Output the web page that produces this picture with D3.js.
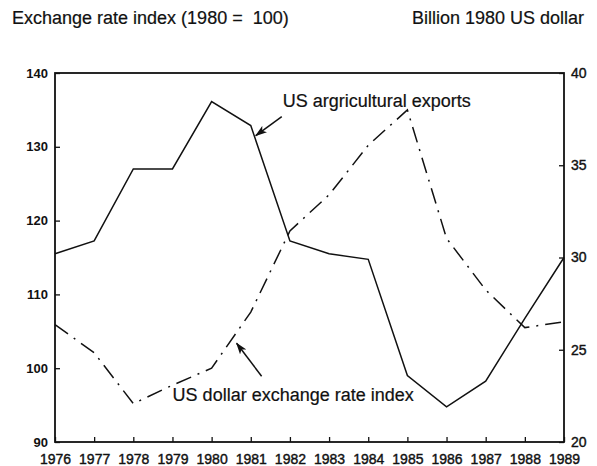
<!DOCTYPE html>
<html>
<head>
<meta charset="utf-8">
<script src="https://cdn.jsdelivr.net/npm/d3@7/dist/d3.min.js"></script>
<style>
  html, body { margin: 0; padding: 0; background: #fff; }
  svg { display: block; }
  text { font-family: "Liberation Sans", Arial, Helvetica, sans-serif; fill: #111; }
</style>
</head>
<body>
<svg id="chart" width="597" height="466"></svg>
<script>
// ---- data ----
const years = [1976, 1977, 1978, 1979, 1980, 1981, 1982, 1983, 1984, 1985, 1986, 1987, 1988, 1989];
// US agricultural exports, billion 1980 US dollar (right axis)
const agExports = [30.2, 30.9, 34.8, 34.8, 38.45, 37.15, 30.9, 30.2, 29.9, 23.6, 21.9, 23.3, 26.7, 30.0];
// US dollar exchange rate index, 1980 = 100 (left axis)
const exchangeIndex = [105.9, 102.1, 95.2, 97.7, 100.0, 107.6, 118.6, 123.5, 130.2, 135.0, 117.6, 110.6, 105.5, 106.3];
const leftTicks = [90, 100, 110, 120, 130, 140];
const rightTicks = [20, 25, 30, 35, 40];
const leftTitle = "Exchange rate index (1980 =\u00a0 100)";
const rightTitle = "Billion 1980 US dollar";
const labelExports = "US argricultural exports";
const labelExchange = "US dollar exchange rate index";

// ---- layout ----
const svg = d3.select("#chart");
const L = 55, R = 564, T = 73, B = 442;

const x = d3.scaleLinear().domain([1976, 1989]).range([L, R]);
const yL = d3.scaleLinear().domain([90, 140]).range([B, T]);
const yR = d3.scaleLinear().domain([20, 40]).range([B, T]);

// titles
svg.append("text").attr("x", 12).attr("y", 24).attr("font-size", 18)
  .attr("stroke", "#111").attr("stroke-width", 0.2).text(leftTitle);
svg.append("text").attr("x", 584).attr("y", 24).attr("font-size", 18)
  .attr("stroke", "#111").attr("stroke-width", 0.2)
  .attr("text-anchor", "end").text(rightTitle);

// axes
const gL = svg.append("g").attr("transform", `translate(${L},0)`)
  .call(d3.axisLeft(yL).tickValues(leftTicks).tickSizeInner(-5).tickSizeOuter(0).tickPadding(7));
gL.selectAll("text").attr("font-size", 13).attr("font-weight", "bold")
  .style("font-family", '"Liberation Sans", Arial, sans-serif').attr("fill", "#111");

const gR = svg.append("g").attr("transform", `translate(${R},0)`)
  .call(d3.axisRight(yR).tickValues(rightTicks).tickSizeInner(-5).tickSizeOuter(0).tickPadding(7));
gR.selectAll("text").attr("font-size", 14)
  .attr("stroke", "#111").attr("stroke-width", 0.4)
  .style("font-family", '"Liberation Sans", Arial, sans-serif').attr("fill", "#111");

const gB = svg.append("g").attr("transform", `translate(0,${B})`)
  .call(d3.axisBottom(x).tickValues(years).tickFormat(d3.format("d")).tickSizeInner(-5).tickSizeOuter(0).tickPadding(12));
gB.selectAll("text").attr("font-size", 14)
  .attr("stroke", "#111").attr("stroke-width", 0.4)
  .style("font-family", '"Liberation Sans", Arial, sans-serif').attr("fill", "#111");

[gL, gR, gB].forEach(g => {
  g.select(".domain").remove();
  g.selectAll(".tick line").attr("stroke", "#111").attr("stroke-width", 1.3);
});

// frame
svg.append("rect").attr("x", L).attr("y", T).attr("width", R - L).attr("height", B - T)
  .attr("fill", "none").attr("stroke", "#111").attr("stroke-width", 1.8);

// lines
const lineExports = d3.line().x((d, i) => x(years[i])).y(d => yR(d));
const lineExchange = d3.line().x((d, i) => x(years[i])).y(d => yL(d));

svg.append("path").datum(agExports).attr("d", lineExports)
  .attr("fill", "none").attr("stroke", "#111").attr("stroke-width", 1.5).attr("stroke-linejoin", "miter");

svg.append("path").datum(exchangeIndex).attr("d", lineExchange)
  .attr("fill", "none").attr("stroke", "#111").attr("stroke-width", 1.5)
  .attr("stroke-dasharray", "16,7,2,7");

// arrow marker
const defs = svg.append("defs");
defs.append("marker").attr("id", "arr").attr("viewBox", "0 0 12 8")
  .attr("refX", 11).attr("refY", 4).attr("markerWidth", 12).attr("markerHeight", 8)
  .attr("markerUnits", "userSpaceOnUse").attr("orient", "auto")
  .append("path").attr("d", "M0,0 L12,4 L0,8 L3,4 Z").attr("fill", "#111");

// annotations anchored to data points
const p81 = [x(1981), yR(agExports[5])];
svg.append("line")
  .attr("x1", p81[0] + 31).attr("y1", p81[1] - 9)
  .attr("x2", p81[0] + 5).attr("y2", p81[1] + 10)
  .attr("stroke", "#111").attr("stroke-width", 1.5).attr("marker-end", "url(#arr)");
svg.append("text").attr("x", p81[0] + 32).attr("y", p81[1] - 19).attr("font-size", 18)
  .attr("stroke", "#111").attr("stroke-width", 0.2).text(labelExports);

const p80 = [x(1980), yL(exchangeIndex[4])];
svg.append("line")
  .attr("x1", p80[0] + 50).attr("y1", p80[1] + 8)
  .attr("x2", p80[0] + 25).attr("y2", p80[1] - 25)
  .attr("stroke", "#111").attr("stroke-width", 1.5).attr("marker-end", "url(#arr)");
svg.append("text").attr("x", p80[0] - 39).attr("y", p80[1] + 33).attr("font-size", 18)
  .attr("stroke", "#111").attr("stroke-width", 0.2).text(labelExchange);
</script>
</body>
</html>
